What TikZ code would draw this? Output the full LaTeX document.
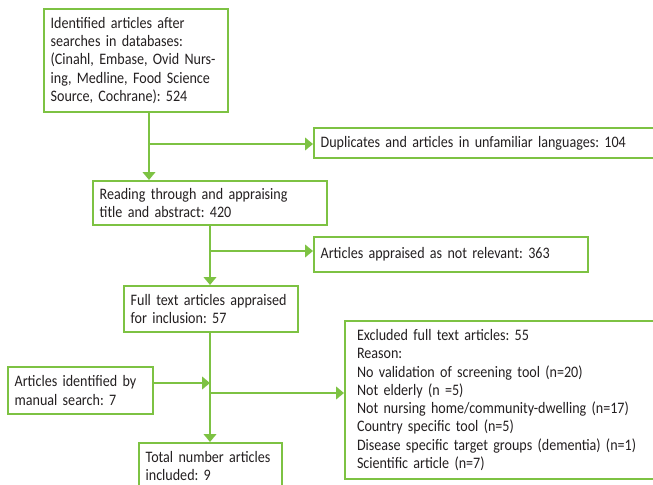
\documentclass[tikz,border=0pt]{standalone}
\usepackage{fontspec}
\setmainfont[FakeStretch=0.88]{Carlito}
\usepackage{tikz}
\usetikzlibrary{arrows.meta}
\definecolor{prisma}{HTML}{7DC243}
\definecolor{ink}{HTML}{231F20}
\tikzset{
    box/.style={draw=prisma, line width=1.5pt, anchor=north west, align=left, inner xsep=5pt, inner ysep=0pt, text=ink},
    link/.style={draw=prisma, line width=1.5pt},
    flow/.style={link, -{Triangle[length=6pt, width=9.5pt]}}
}
\frenchspacing

\begin{document}
\begin{tikzpicture}[x=0.75pt, y=-0.75pt, font=\fontsize{12}{13.7}\selectfont]
        \def\W{653 } % picture width (px)
        \def\H{485 } % picture height (px)
        \useasboundingbox (0,0) rectangle (\W,\H);
        \clip (0,0) rectangle (\W,\H);

        % Main column
        \node[box, text width=128pt, minimum height=77.25pt] (search) at (43,8)
            {Identified articles after\\searches in databases:\\(Cinahl, Embase, Ovid Nurs-\\ing, Medline, Food Science\\Source, Cochrane): 524};
        \node[box, text width=165.5pt, minimum height=33pt] (read) at (92,180)
            {Reading through and appraising\\title and abstract: 420};
        \node[box, text width=120.5pt, minimum height=34.5pt] (full) at (123,285)
            {Full text articles appraised\\for inclusion: 57};
        \node[box, text width=97.25pt, minimum height=34.5pt] (total) at (138,442)
            {Total number articles\\included: 9};

        % Side boxes
        \node[box, text width=260pt, minimum height=22.5pt] (dup) at (313,127)
            {Duplicates and articles in unfamiliar languages: 104};
        \node[box, text width=195.5pt, minimum height=26.25pt] (notrel) at (313,236)
            {Articles appraised as not relevant: 363};
        \node[box, text width=98.75pt, minimum height=35.25pt] (manual) at (7,366)
            {Articles identified by\\manual search: 7};
        \node[box, inner xsep=9pt, text width=229.5pt, minimum height=118.5pt] (excl) at (344,320)
            {Excluded full text articles: 55\\Reason:\\No validation of screening tool (n=20)\\Not elderly (n =5)\\Not nursing home/community-dwelling (n=17)\\Country specific tool (n=5)\\Disease specific target groups (dementia) (n=1)\\Scientific article (n=7)};

        % Branch points
        \coordinate (b1) at (149,144);
        \coordinate (b2) at (210,251);
        \coordinate (b3) at (210,383);
        \coordinate (b4) at (210,393);

        % Connectors
        \draw[link] (search.south -| b1) -- (b1);
        \draw[flow] (b1) -- (b1 |- read.north);
        \draw[flow] (b1) -- (b1 -| dup.west);

        \draw[link] (read.south -| b2) -- (b2);
        \draw[flow] (b2) -- (b2 |- full.north);
        \draw[flow] (b2) -- (b2 -| notrel.west);

        \draw[link] (full.south -| b3) -- (b4);
        \draw[flow] (manual.east |- b3) -- (b3);
        \draw[flow] (b4) -- (b4 |- total.north);
        \draw[flow] (b4) -- (b4 -| excl.west);
\end{tikzpicture}
\end{document}
